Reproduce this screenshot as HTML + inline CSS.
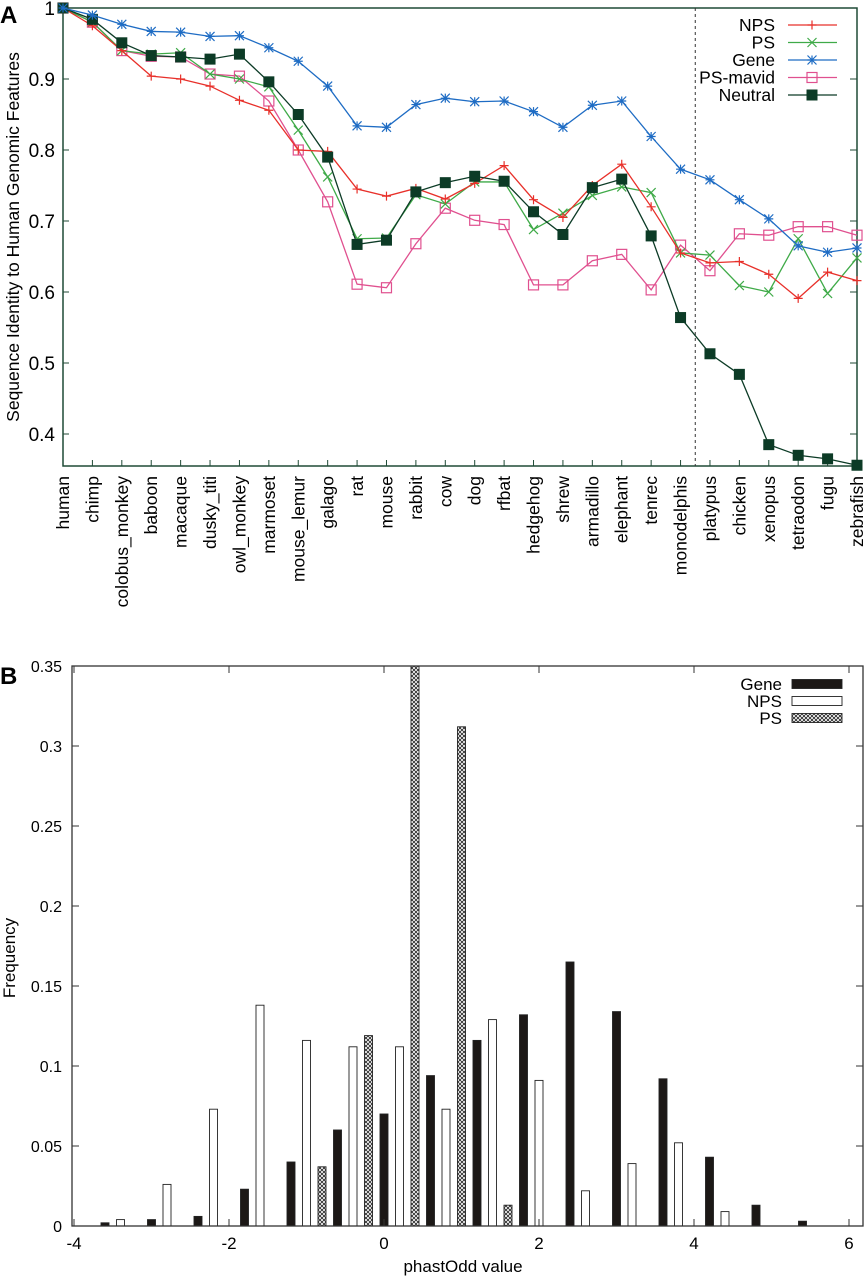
<!DOCTYPE html>
<html><head><meta charset="utf-8"><style>
body{margin:0;background:#fff;}
svg{display:block;font-family:"Liberation Sans",Arial,sans-serif;}
</style></head><body>
<svg id="fig" width="865" height="1280" viewBox="0 0 865 1280" xmlns="http://www.w3.org/2000/svg">
<defs>
<pattern id="hatch" width="4" height="4" patternUnits="userSpaceOnUse">
<rect width="4" height="4" fill="#fff"/>
<path d="M0,0L4,4M4,0L0,4" stroke="#222" stroke-width="0.8"/>
</pattern>
</defs>
<g id="chartA"></g>
<g id="chartB"></g>
</svg>
<script>
const categories=["human","chimp","colobus_monkey","baboon","macaque","dusky_titi","owl_monkey","marmoset","mouse_lemur","galago","rat","mouse","rabbit","cow","dog","rfbat","hedgehog","shrew","armadillo","elephant","tenrec","monodelphis","platypus","chicken","xenopus","tetraodon","fugu","zebrafish"];
const npsValues=[1,.975,.94,.904,.900,.890,.870,.856,.800,.798,.745,.735,.746,.731,.753,.778,.730,.705,.750,.780,.720,.655,.641,.643,.625,.591,.628,.616];
const psValues=[1,.98,.94,.935,.937,.907,.900,.889,.828,.762,.675,.676,.737,.724,.755,.755,.688,.711,.736,.748,.740,.655,.652,.609,.600,.675,.598,.648];
const geneValues=[1,.990,.977,.967,.966,.960,.961,.944,.925,.890,.834,.832,.864,.873,.868,.869,.854,.832,.863,.869,.819,.773,.758,.730,.703,.665,.656,.662];
const mavidValues=[1,.980,.940,.932,.931,.907,.904,.869,.800,.727,.611,.606,.668,.718,.701,.695,.610,.610,.644,.653,.603,.666,.630,.682,.680,.692,.692,.680];
const neutralValues=[1,.984,.951,.933,.931,.928,.935,.896,.850,.790,.667,.673,.741,.754,.763,.756,.713,.681,.747,.759,.679,.564,.513,.484,.385,.370,.365,.356];
const yTicksA=[0.4,0.5,0.6,0.7,0.8,0.9,1];
const yTickLabelsA=["0.4","0.5","0.6","0.7","0.8","0.9","1"];
const dividerIndex=21.5;

const geneX=[-3.6,-3.0,-2.4,-1.8,-1.2,-0.6,0,0.6,1.2,1.8,2.4,3.0,3.6,4.2,4.8,5.4];
const geneFreq=[0.002,0.004,0.006,0.023,0.040,0.060,0.070,0.094,0.116,0.132,0.165,0.134,0.092,0.043,0.013,0.003];
const npsX=[-3.4,-2.8,-2.2,-1.6,-1.0,-0.4,0.2,0.8,1.4,2.0,2.6,3.2,3.8,4.4];
const npsFreq=[0.004,0.026,0.073,0.138,0.116,0.112,0.112,0.073,0.129,0.091,0.022,0.039,0.052,0.009];
const psX=[-0.8,-0.2,0.4,1.0,1.6];
const psFreq=[0.037,0.119,0.38,0.312,0.013];
const xTicksB=[-4,-2,0,2,4,6];
const yTicksB=[0,0.05,0.1,0.15,0.2,0.25,0.3,0.35];
const yTickLabelsB=["0","0.05","0.1","0.15","0.2","0.25","0.3","0.35"];

const NS="http://www.w3.org/2000/svg";
function mk(parent,tag,attrs,text){const e=document.createElementNS(NS,tag);for(const k in attrs)e.setAttribute(k,attrs[k]);if(text!==undefined)e.textContent=text;parent.appendChild(e);return e;}

// ---------- Chart A ----------
const A=document.getElementById('chartA');
const aL=63,aR=857,aT=8,aB=466;
const xA=i=>aL+i*(aR-aL)/(categories.length-1);
const yA=v=>aT+(1-v)*710;
const axc="#1f4a36";
let t=mk(A,'text',{x:0,y:23,'font-size':24,'font-weight':'bold'},'A');

let fr=mk(A,'rect',{x:aL,y:aT,width:aR-aL,height:aB-aT,fill:'none',stroke:axc,'stroke-width':1.5});

yTicksA.forEach((v,i)=>{
  const y=yA(v);
  let l=mk(A,'line',{x1:aR-7,x2:aR,y1:y,y2:y,stroke:axc,'stroke-width':1});
  
  let l2=mk(A,'line',{x1:aL,x2:aL+6,y1:y,y2:y,stroke:axc,'stroke-width':1});
  
  let tx=mk(A,'text',{x:aL-8,y:y+7,'font-size':19,'text-anchor':'end'},yTickLabelsA[i]);
  
});
categories.forEach((c,i)=>{
  const x=xA(i);
  let l=mk(A,'line',{x1:x,x2:x,y1:aB-6,y2:aB,stroke:axc,'stroke-width':1});
  
  let tx=mk(A,'text',{x:0,y:0,'font-size':17.5,'text-anchor':'end',transform:`translate(${x+6},476) rotate(-90)`},c);
  
});
let yt=mk(A,'text',{x:0,y:0,'font-size':17.5,'text-anchor':'middle',transform:'translate(19,237) rotate(-90)'},'Sequence Identity to Human Genomic Features');

let dv=mk(A,'line',{x1:xA(dividerIndex),x2:xA(dividerIndex),y1:aT,y2:aB,stroke:'#333','stroke-width':1,'stroke-dasharray':'3,3'});


function marker(g,type,x,y,col){
  const s=4.5;
  if(type==='plus'){mk(g,'path',{d:`M${x-s},${y}H${x+s}M${x},${y-s}V${y+s}`,stroke:col,'stroke-width':1.2,fill:'none'});}
  else if(type==='x'){mk(g,'path',{d:`M${x-s},${y-s}L${x+s},${y+s}M${x+s},${y-s}L${x-s},${y+s}`,stroke:col,'stroke-width':1.2,fill:'none'});}
  else if(type==='star'){mk(g,'path',{d:`M${x-s},${y}H${x+s}M${x},${y-s}V${y+s}M${x-s},${y-s}L${x+s},${y+s}M${x+s},${y-s}L${x-s},${y+s}`,stroke:col,'stroke-width':1.2,fill:'none'});}
  else if(type==='osq'){mk(g,'rect',{x:x-5,y:y-5,width:10,height:10,stroke:col,'stroke-width':1.2,fill:'none'});}
  else {mk(g,'rect',{x:x-5.5,y:y-5.5,width:11,height:11,fill:col});}
}
const series=[
 {name:'NPS',vals:npsValues,col:'#e8302a',m:'plus'},
 {name:'PS',vals:psValues,col:'#3faa48',m:'x'},
 {name:'Gene',vals:geneValues,col:'#1e6cc4',m:'star'},
 {name:'PS-mavid',vals:mavidValues,col:'#e0508f',m:'osq'},
 {name:'Neutral',vals:neutralValues,col:'#0c3b26',m:'fsq'}];
const drawOrder=[3,1,0,4,2];
drawOrder.forEach(si=>{
  const s=series[si];
  const g=mk(A,'g',{});
  
  const pts=s.vals.map((v,i)=>xA(i)+','+yA(v)).join(' ');
  let pl=mk(g,'polyline',{points:pts,fill:'none',stroke:s.col,'stroke-width':1.3});
  
  s.vals.forEach((v,i)=>marker(g,s.m,xA(i),yA(v),s.col));
});
series.forEach((s,i)=>{
  const y=25+i*17.5;
  const g=mk(A,'g',{});
  
  mk(g,'text',{x:775,y:y+6,'font-size':17.5,'text-anchor':'end'},s.name);
  mk(g,'line',{x1:788,x2:837,y1:y,y2:y,stroke:s.col,'stroke-width':1.3});
  marker(g,s.m,812,y,s.col);
});

// ---------- Chart B ----------
const B=document.getElementById('chartB');
const bL=72,bR=863,bT=666,bB=1226;
const xB=v=>384+77.5*v;
const yB=v=>bB-v*1600;
t=mk(B,'text',{x:0,y:684,'font-size':24,'font-weight':'bold'},'B');

const clip=mk(B,'clipPath',{id:'clipB'});mk(clip,'rect',{x:bL,y:bT,width:bR-bL,height:bB-bT});
const barsG=mk(B,'g',{'clip-path':'url(#clipB)'});

function bars(xs,vals,fill,name){
  xs.forEach((xv,i)=>{
    const h=bB-yB(vals[i]);
    let r=mk(barsG,'rect',{x:xB(xv)-4,y:yB(vals[i]),width:8,height:h,fill:fill,stroke:'#222','stroke-width':0.9});
    
  });
}
bars(geneX,geneFreq,'#1c1816','gene');
bars(npsX,npsFreq,'#fff','nps');
bars(psX,psFreq,'url(#hatch)','ps');
fr=mk(B,'rect',{x:bL,y:bT,width:bR-bL,height:bB-bT,fill:'none',stroke:'#333','stroke-width':1.3});

yTicksB.forEach((v,i)=>{
  const y=yB(v);
  let l=mk(B,'line',{x1:bL,x2:bL+7,y1:y,y2:y,stroke:'#333'});
  
  let l2=mk(B,'line',{x1:bR-7,x2:bR,y1:y,y2:y,stroke:'#333'});
  
  let tx=mk(B,'text',{x:bL-10,y:y+6,'font-size':16,'text-anchor':'end'},yTickLabelsB[i]);
  
});
xTicksB.forEach(v=>{
  const x=xB(v);
  let l=mk(B,'line',{x1:x,x2:x,y1:bB-7,y2:bB,stroke:'#333'});
  
  let l2=mk(B,'line',{x1:x,x2:x,y1:bT,y2:bT+7,stroke:'#333'});
  
  let tx=mk(B,'text',{x:x,y:bB+23,'font-size':17,'text-anchor':'middle'},String(v));
  
});
let xt=mk(B,'text',{x:463,y:1272,'font-size':17,'text-anchor':'middle'},'phastOdd value');

yt=mk(B,'text',{x:0,y:0,'font-size':17,'text-anchor':'middle',transform:'translate(15,958) rotate(-90)'},'Frequency');

const legB=[['Gene','#1c1816'],['NPS','#fff'],['PS','url(#hatch)']];
legB.forEach((e,i)=>{
  const y=684+i*17;
  const g=mk(B,'g',{});
  
  mk(g,'text',{x:782,y:y+6,'font-size':17,'text-anchor':'end'},e[0]);
  mk(g,'rect',{x:792,y:y-4.5,width:50,height:9,fill:e[1],stroke:'#222','stroke-width':0.9});
});
</script>
</body></html>
